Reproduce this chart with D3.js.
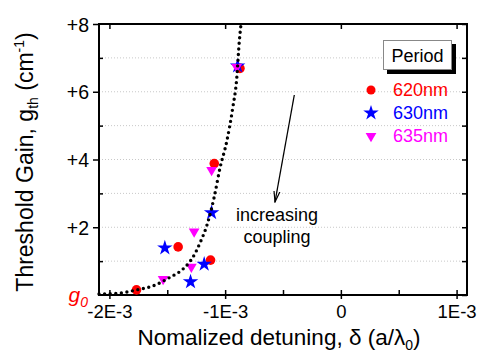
<!DOCTYPE html>
<html>
<head>
<meta charset="utf-8">
<title>Threshold gain vs detuning</title>
<style>
  body { margin: 0; background: #fff; }
  svg text { font-family: "Liberation Sans", Arial, sans-serif; }
</style>
<script src="https://d3js.org/d3.v7.min.js"></script>
</head>
<body>
<svg id="chart" width="482" height="358"></svg>
<script>
// values
const xTickVals = [-2e-3, -1e-3, 0, 1e-3];
const xTickLabels = ["-2E-3", "-1E-3", "0", "1E-3"];
const xMinorVals = [-1.5e-3, -0.5e-3, 0.5e-3];
const yTickVals = [2, 4, 6, 8];
const yTickLabels = ["+2", "+4", "+6", "+8"];
const yMinorVals = [1, 3, 5, 7];

const periods = ["620nm", "630nm", "635nm"];
const detune620 = [-1.766e-3, -1.406e-3, -1.126e-3, -1.094e-3, -0.872e-3];
const gain620   = [0.15, 1.42, 1.03, 3.88, 6.69];
const detune630 = [-1.521e-3, -1.299e-3, -1.181e-3, -1.117e-3, -0.892e-3];
const gain630   = [1.39, 0.39, 0.91, 2.43, 6.76];
const detune635 = [-1.536e-3, -1.268e-3, -1.292e-3, -1.117e-3, -0.900e-3];
const gain635   = [0.47, 1.87, 0.83, 3.69, 6.73];

// dotted guide curve
const fitX = [-2.09e-3, -1.926e-3, -1.766e-3, -1.623e-3, -1.478e-3, -1.363e-3, -1.276e-3, -1.218e-3,
              -1.152e-3, -1.094e-3, -1.045e-3, -0.987e-3, -0.935e-3, -0.900e-3, -0.878e-3, -0.863e-3];
const fitY = [0.03, 0.05, 0.15, 0.27, 0.52, 0.77, 1.13, 1.53,
              2.12, 2.90, 3.74, 4.52, 5.51, 6.39, 7.47, 7.99];

const svg = d3.select("#chart");
const L = 99, R = 467, T = 24, B = 295;
const x = d3.scaleLinear().domain([-2.09e-3, 1.09e-3]).range([L, R]);
const y = d3.scaleLinear().domain([0, 8]).range([B, T]);

// grid
svg.append("g").selectAll("line")
  .data(d3.range(1, 8))
  .join("line")
  .attr("x1", L).attr("x2", R)
  .attr("y1", d => y(d)).attr("y2", d => y(d))
  .attr("stroke", "#c8c8c8")
  .attr("stroke-width", 1)
  .attr("stroke-dasharray", "1,2");

// axes (Origin style frame)
const fmt = (vals, labels) => d => labels[vals.indexOf(d)];

const bottom = svg.append("g").attr("transform", `translate(0,${B})`)
  .call(d3.axisBottom(x).tickValues(xTickVals).tickFormat(fmt(xTickVals, xTickLabels))
    .tickSizeInner(4).tickSizeOuter(0).tickPadding(6));
bottom.selectAll("text").attr("font-size", 18.5).attr("fill", "#000").style("font-family", "Liberation Sans, Arial, sans-serif");

const left = svg.append("g").attr("transform", `translate(${L},0)`)
  .call(d3.axisLeft(y).tickValues(yTickVals).tickFormat(fmt(yTickVals, yTickLabels))
    .tickSizeInner(6).tickSizeOuter(0).tickPadding(4));
left.selectAll("text").attr("font-size", 19.5).attr("fill", "#000").attr("dy", "0.36em").style("font-family", "Liberation Sans, Arial, sans-serif");

svg.append("g").attr("transform", `translate(0,${T})`)
  .call(d3.axisTop(x).tickValues(xTickVals).tickFormat("").tickSizeInner(-5).tickSizeOuter(0));
svg.append("g").attr("transform", `translate(${R},0)`)
  .call(d3.axisRight(y).tickValues(d3.range(0, 9)).tickFormat("").tickSizeInner(-5).tickSizeOuter(0));

// inner ticks on bottom/left
svg.append("g").attr("transform", `translate(0,${B})`)
  .call(d3.axisBottom(x).tickValues(xTickVals.concat(xMinorVals)).tickFormat("").tickSizeInner(-5).tickSizeOuter(0));
svg.append("g").attr("transform", `translate(${L},0)`)
  .call(d3.axisLeft(y).tickValues(yMinorVals).tickFormat("").tickSizeInner(-4).tickSizeOuter(0));

svg.selectAll(".domain").remove();
svg.selectAll(".tick line").attr("stroke", "#000").attr("stroke-width", 1.5);

// frame
svg.append("rect")
  .attr("x", L).attr("y", T).attr("width", R - L).attr("height", B - T)
  .attr("fill", "none").attr("stroke", "#000").attr("stroke-width", 2);

// g0 label at zero
const g0 = svg.append("text").attr("x", 88).attr("y", y(0) + 7)
  .attr("text-anchor", "end").attr("fill", "#ff0000").attr("font-size", 21).attr("font-style", "italic");
g0.append("tspan").text("g");
g0.append("tspan").attr("font-size", 14).attr("dy", 5).text("0");

// markers
const star = d3.symbol().type(d3.symbolStar).size(74);
const tri = d3.symbol().type(d3.symbolTriangle).size(50);

svg.append("g").selectAll("circle")
  .data(d3.zip(detune620, gain620))
  .join("circle")
  .attr("cx", d => x(d[0])).attr("cy", d => y(d[1]))
  .attr("r", 4.8).attr("fill", "#ff0000");

svg.append("g").selectAll("path")
  .data(d3.zip(detune630, gain630))
  .join("path")
  .attr("d", star)
  .attr("transform", d => `translate(${x(d[0])},${y(d[1])})`)
  .attr("fill", "#0000ff");

svg.append("g").selectAll("path")
  .data(d3.zip(detune635, gain635))
  .join("path")
  .attr("d", tri)
  .attr("transform", d => `translate(${x(d[0])},${y(d[1])}) rotate(180)`)
  .attr("fill", "#ff00ff");

// dotted curve
const line = d3.line().x(d => x(d[0])).y(d => y(d[1])).curve(d3.curveMonotoneX);
svg.append("path")
  .attr("d", line(d3.zip(fitX, fitY)))
  .attr("fill", "none")
  .attr("stroke", "#000")
  .attr("stroke-width", 3.4)
  .attr("stroke-linecap", "round")
  .attr("stroke-dasharray", "0,5.6");

// legend
svg.append("rect").attr("x", 387).attr("y", 44).attr("width", 69).attr("height", 30).attr("fill", "#000");
svg.append("rect").attr("x", 383.5).attr("y", 40.5).attr("width", 68).attr("height", 29)
  .attr("fill", "#fff").attr("stroke", "#888").attr("stroke-width", 1);
svg.append("text").attr("x", 417.5).attr("y", 61.5).attr("text-anchor", "middle")
  .attr("font-size", 18).attr("fill", "#000").text("Period");

const legColors = ["#ff0000", "#0000ff", "#ff00ff"];
const legY = [90, 113, 136];
svg.append("circle").attr("cx", 371).attr("cy", legY[0]).attr("r", 4.5).attr("fill", legColors[0]);
svg.append("path").attr("d", star).attr("transform", `translate(371,${legY[1]})`).attr("fill", legColors[1]);
svg.append("path").attr("d", tri).attr("transform", `translate(371,${legY[2]}) rotate(180)`).attr("fill", legColors[2]);
svg.append("g").selectAll("text")
  .data(periods)
  .join("text")
  .attr("x", 393).attr("y", (d, i) => legY[i] + 6)
  .attr("font-size", 18)
  .attr("fill", (d, i) => legColors[i])
  .text(d => d);

// arrow + annotation
svg.append("defs").append("marker")
  .attr("id", "ah").attr("viewBox", "0 0 12 8").attr("refX", 11).attr("refY", 4)
  .attr("markerWidth", 12).attr("markerHeight", 8).attr("markerUnits", "userSpaceOnUse")
  .attr("orient", "auto")
  .append("path").attr("d", "M0,1 L11,4 L0,7").attr("fill", "none").attr("stroke", "#000").attr("stroke-width", 1.2);
svg.append("line")
  .attr("x1", 294.3).attr("y1", 95).attr("x2", 275).attr("y2", 202)
  .attr("stroke", "#000").attr("stroke-width", 1.3).attr("marker-end", "url(#ah)");
svg.append("text").attr("x", 277).attr("y", 221).attr("text-anchor", "middle").attr("font-size", 18).text("increasing");
svg.append("text").attr("x", 277).attr("y", 243).attr("text-anchor", "middle").attr("font-size", 18).text("coupling");

// axis titles
const xt = svg.append("text").attr("x", 279).attr("y", 345).attr("text-anchor", "middle").attr("font-size", 22.5).attr("fill", "#000");
xt.append("tspan").text("Nomalized detuning, δ (a/λ");
xt.append("tspan").attr("font-size", 14).attr("dy", 5).text("0");
xt.append("tspan").attr("dy", -5).text(")");

const yt = svg.append("text").attr("transform", "translate(33,162) rotate(-90)")
  .attr("text-anchor", "middle").attr("font-size", 23).attr("fill", "#000");
yt.append("tspan").text("Threshold Gain, g");
yt.append("tspan").attr("font-size", 14).attr("dy", 5).text("th");
yt.append("tspan").attr("dy", -5).text(" (cm");
yt.append("tspan").attr("font-size", 14).attr("dy", -9).text("-1");
yt.append("tspan").attr("dy", 9).text(")");
</script>
</body>
</html>
